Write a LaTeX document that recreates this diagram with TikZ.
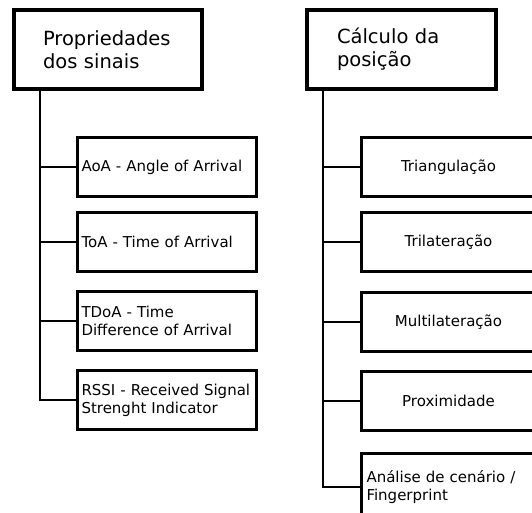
\documentclass[tikz,border=0pt]{standalone}
\usepackage{fontspec}
\setmainfont{DejaVu Sans}
\usepackage{tikz}
\tikzset{
	every node/.style={outer sep=0pt},
	titulo/.style={draw, line width=4pt, anchor=north west, minimum width=188pt, minimum height=79pt, text width=130pt, inner xsep=29pt, align=left, font=\fontsize{19.5}{23}\selectfont},
	caixa/.style={draw, line width=3pt, anchor=west, minimum height=59pt, font=\fontsize{15}{18}\selectfont},
	caixaesq/.style={caixa, minimum width=179pt, text width=171pt, inner xsep=4pt, align=left},
	caixadir/.style={caixa, minimum width=174pt, text width=160pt, inner xsep=7pt, align=center},
	ramo/.style={line width=2.5pt},
}

\begin{document}
\begin{tikzpicture}[x=1pt, y=-1pt]
	\useasboundingbox (0,0) rectangle (532,512);
	\clip (0,0) rectangle (532,512);

	% titulos
	\node[titulo] (prop) at (14,10) {Propriedades\\dos sinais};
	\node[titulo, minimum width=189pt, text width=129pt, inner xsep=30pt] (calc) at (307,10) {Cálculo da\\posição};

	% propriedades dos sinais
	\node[caixaesq] (aoa) at (77.5,167) {AoA - Angle of Arrival};
	\node[caixaesq] (toa) at (77.5,242) {ToA - Time of Arrival};
	\node[caixaesq] (tdoa) at (77.5,321) {TDoA - Time\\Difference of Arrival};
	\node[caixaesq] (rssi) at (77.5,400) {RSSI - Received Signal\\Strenght Indicator};

	% calculo da posicao
	\node[caixadir] (tri) at (361.5,167) {Triangulação};
	\node[caixadir] (tril) at (361.5,242) {Trilateração};
	\node[caixadir] (mult) at (361.5,322) {Multilateração};
	\node[caixadir] (prox) at (361.5,401) {Proximidade};
	\node[caixadir, minimum height=67pt, text width=164pt, inner xsep=5pt, align=left] (finger) at (361.5,487) {Análise de cenário /\\Fingerprint};

	\coordinate (tp) at ([xshift=26pt]prop.south west);
	\coordinate (tc) at ([xshift=16pt]calc.south west);

	\draw[ramo] (tp) |- (rssi.west)
		(tp |- aoa.west) -- (aoa.west)
		(tp |- toa.west) -- (toa.west)
		(tp |- tdoa.west) -- (tdoa.west);
	\draw[ramo] (tc) |- (finger.west)
		(tc |- tri.west) -- (tri.west)
		(tc |- tril.west) -- (tril.west)
		(tc |- mult.west) -- (mult.west)
		(tc |- prox.west) -- (prox.west);
\end{tikzpicture}
\end{document}
